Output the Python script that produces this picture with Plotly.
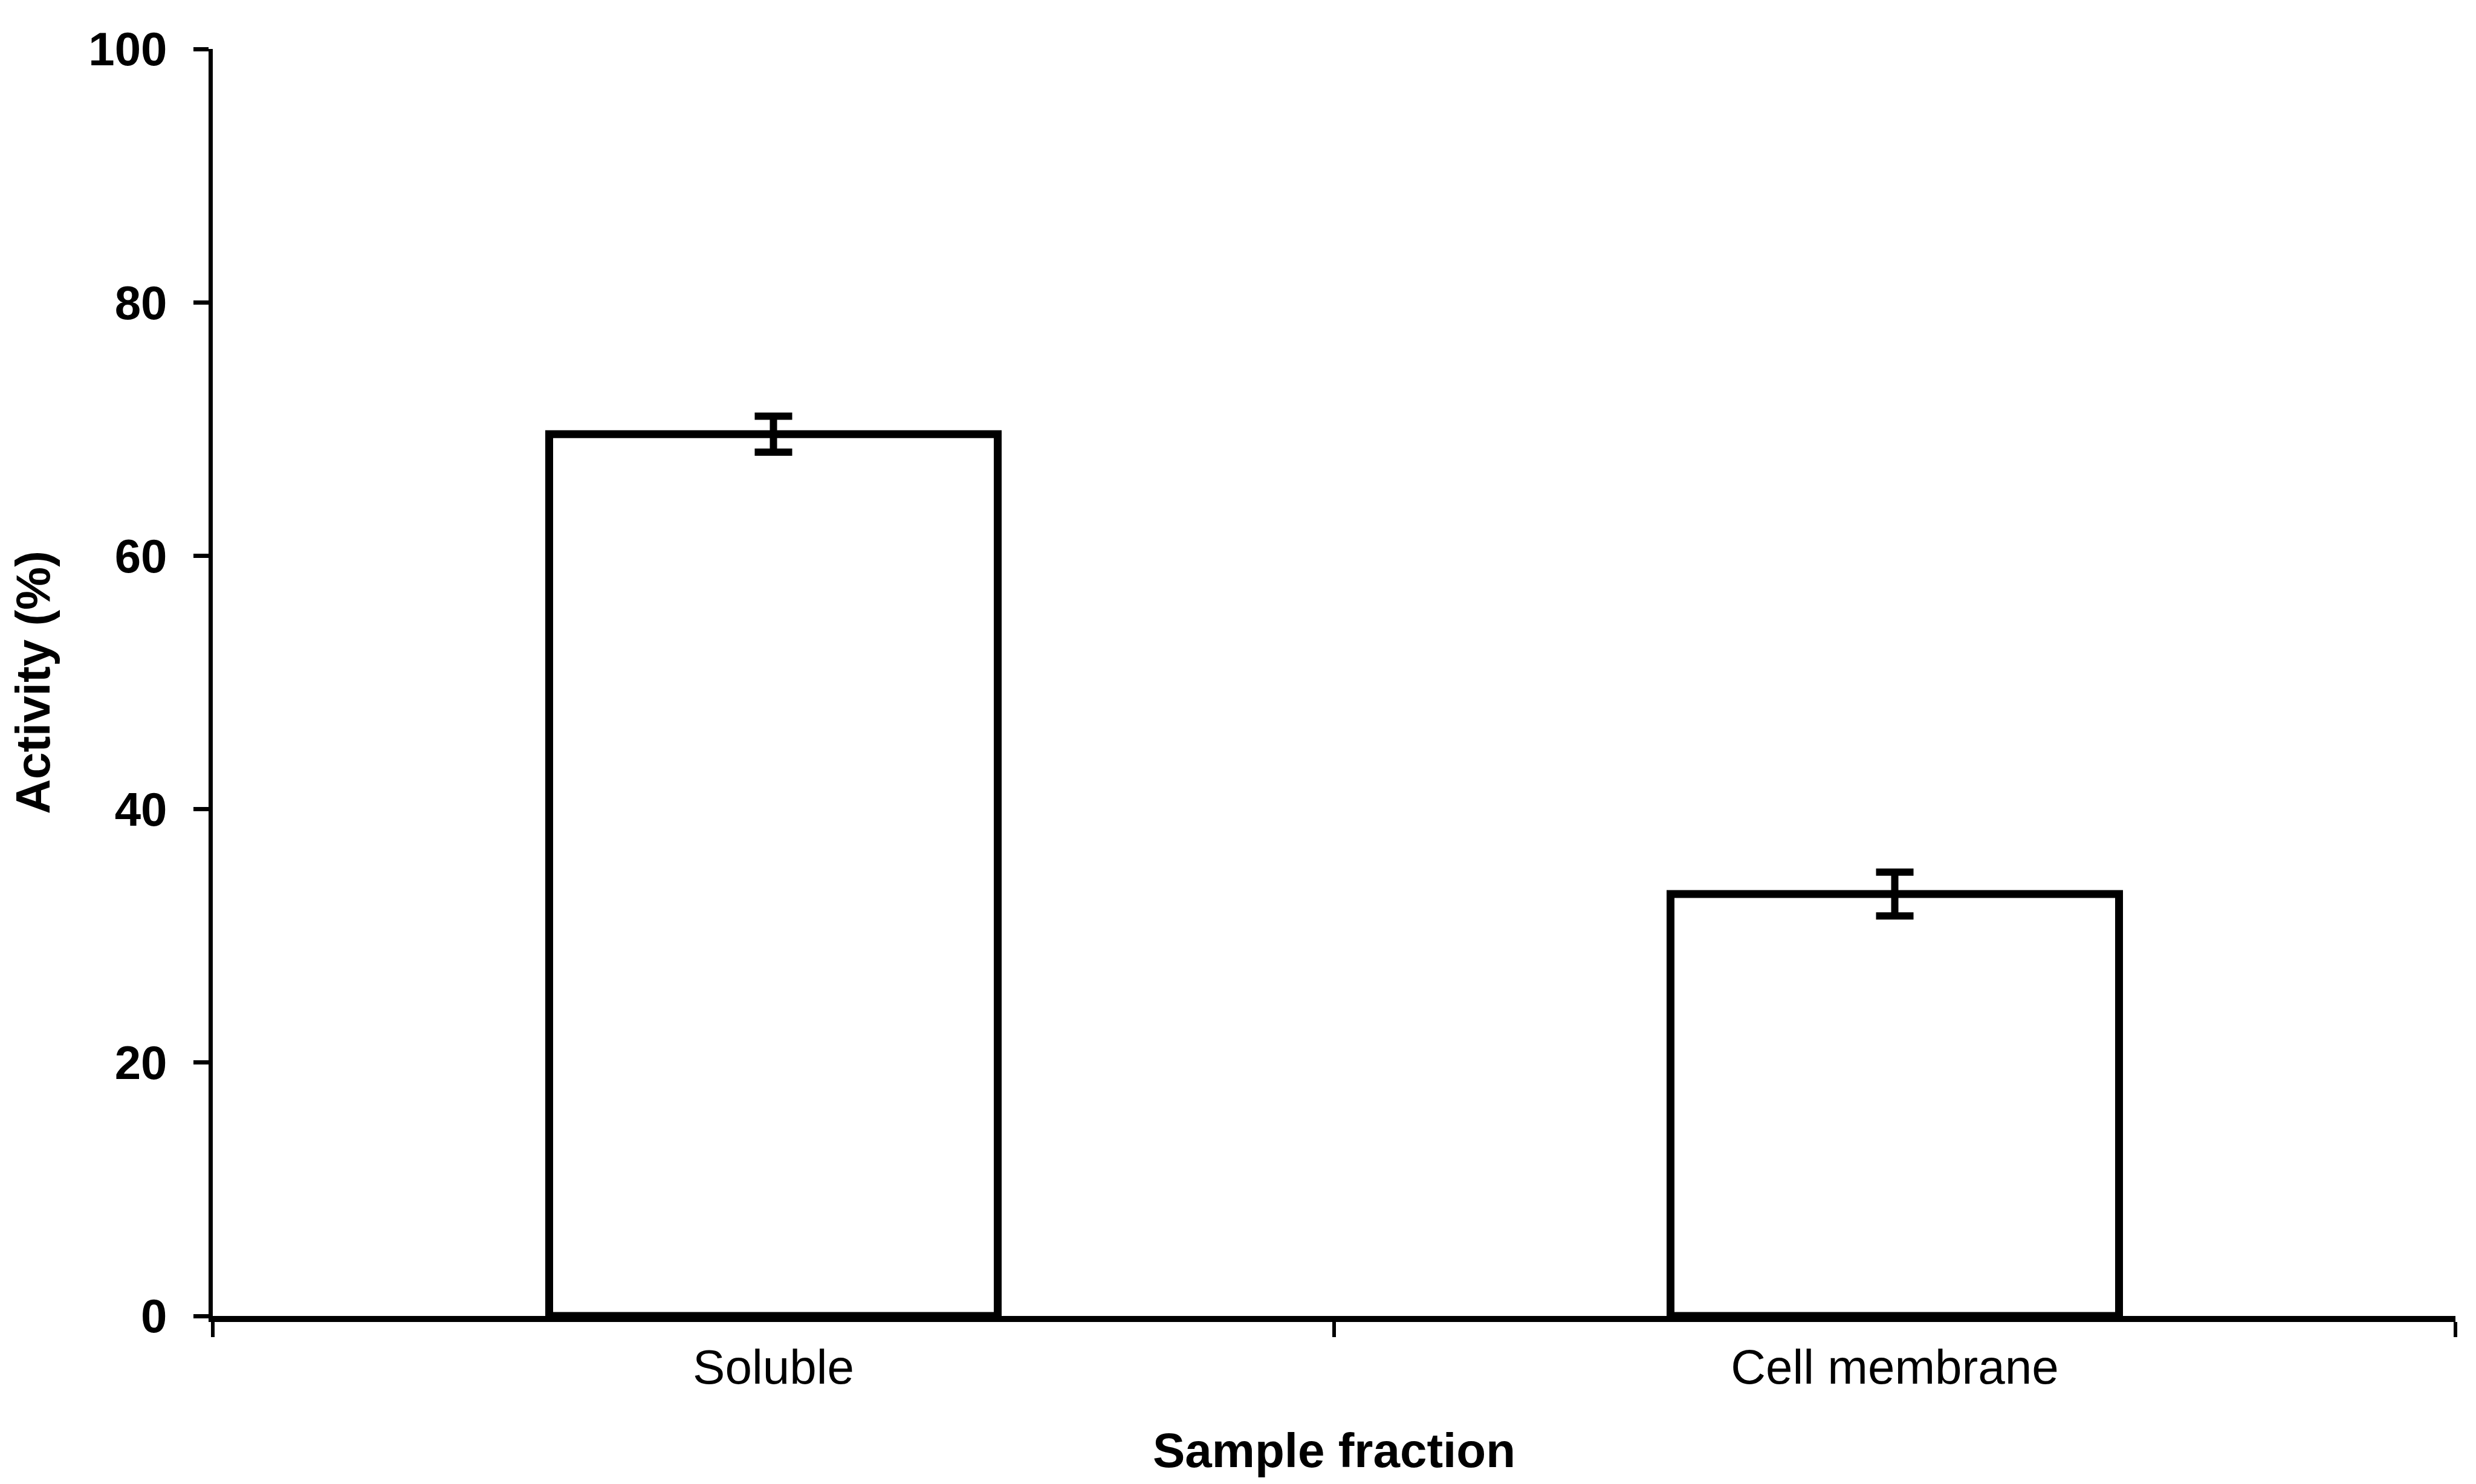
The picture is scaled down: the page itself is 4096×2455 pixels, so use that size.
import plotly.graph_objects as go

categories = ["Soluble", "Cell membrane"]
activity = [69.6, 33.3]
errors = [1.42, 1.73]
y_ticks = [0, 20, 40, 60, 80, 100]

W, H = 4096, 2455
FONT = "Liberation Sans, Arial, Helvetica, sans-serif"

fig = go.Figure()
fig.add_trace(go.Bar(
    x=categories,
    y=activity,
    width=0.4,
    marker=dict(color="white", line=dict(color="black", width=13)),
    error_y=dict(type="data", array=errors, visible=True,
                 color="black", thickness=12, width=31),
    showlegend=False,
))

fig.update_layout(
    width=W, height=H,
    margin=dict(l=344, r=42, t=73, b=286, autoexpand=False),
    paper_bgcolor="white", plot_bgcolor="white",
    font=dict(family=FONT, color="black"),
    xaxis=dict(
        range=[-0.5, 1.5],
        showline=True, linecolor="black", linewidth=10,
        ticks="outside", tickson="boundaries", ticklen=25, tickwidth=6, tickcolor="black",
        tickfont=dict(size=80, family=FONT, color="black"),
        ticklabelstandoff=6,
        showgrid=False, zeroline=False,
        title=dict(text="Sample fraction", font=dict(size=80, family=FONT, weight="bold"), standoff=70),
        automargin=False,
    ),
    yaxis=dict(
        range=[0, 100],
        tickvals=y_ticks,
        showline=True, linecolor="black", linewidth=7,
        ticks="outside", ticklen=25, tickwidth=7, tickcolor="black",
        tickfont=dict(size=78, family=FONT, color="black", weight="bold"),
        ticklabelstandoff=28,
        showgrid=False, zeroline=False,
        title=dict(text="Activity (%)", font=dict(size=80, family=FONT, weight="bold"), standoff=40),
        automargin=False,
    ),
    bargap=0.6,
)

fig.write_html("out.html")
